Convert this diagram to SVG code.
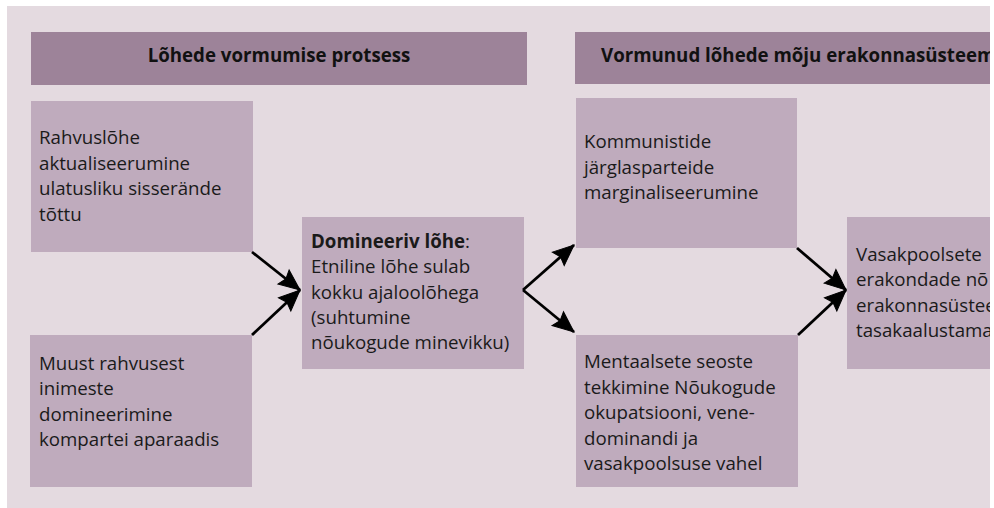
<svg xmlns="http://www.w3.org/2000/svg" width="994" height="508" viewBox="0 0 994 508">
  <style>
    .bg { fill: #E4DAE0; }
    .hdr { fill: #9D8399; }
    .box { fill: #BFABBD; }
    .ht { font-family: "Open Sans", "Noto Sans", sans-serif; font-size: 18.7px; font-weight: 700; fill: #111; }
    .t { font-family: "Open Sans", "Noto Sans", sans-serif; font-size: 18.7px; fill: #1a1a1a; }
    .b { font-weight: 700; }
    .conn { stroke: #000; stroke-width: 2.8; marker-end: url(#arr); }
    .ah { fill: #000; stroke: #000; stroke-width: 1; stroke-linejoin: miter; }
  </style>
  <defs>
    <clipPath id="clip">
      <rect x="0" y="0" width="990" height="508"/>
    </clipPath>
    <marker id="arr" markerUnits="userSpaceOnUse" markerWidth="26" markerHeight="24" refX="22" refY="11" orient="auto" overflow="visible">
      <path class="ah" d="M1,2 L22,11 L1,20 L4,11 z"/>
    </marker>
  </defs>
  <rect class="bg" x="7" y="6" width="983" height="502"/>
  <g clip-path="url(#clip)">
    <g id="header-left">
      <rect class="hdr" x="31" y="32" width="496" height="53"/>
      <text class="ht" x="279" y="62" text-anchor="middle">Lõhede vormumise protsess</text>
    </g>
    <g id="header-right">
      <rect class="hdr" x="575" y="32" width="430" height="52"/>
      <text class="ht" x="601" y="62">Vormunud lõhede mõju erakonnasüsteem</text>
    </g>
    <g id="node-rahvuslohe">
      <rect class="box" x="31" y="101" width="222" height="151"/>
      <text class="t" x="39" y="144">Rahvuslõhe</text>
      <text class="t" x="39" y="169.5">aktualiseerumine</text>
      <text class="t" x="39" y="195">ulatusliku sisserände</text>
      <text class="t" x="39" y="220.5">tõttu</text>
    </g>
    <g id="node-muust">
      <rect class="box" x="30" y="335" width="222" height="152"/>
      <text class="t" x="39" y="369.5">Muust rahvusest</text>
      <text class="t" x="39" y="395">inimeste</text>
      <text class="t" x="39" y="420.5">domineerimine</text>
      <text class="t" x="39" y="446">kompartei aparaadis</text>
    </g>
    <g id="node-domineeriv">
      <rect class="box" x="302" y="217" width="222" height="152"/>
      <text class="t" x="311" y="248"><tspan class="b">Domineeriv lõhe</tspan>:</text>
      <text class="t" x="311" y="273.3">Etniline lõhe sulab</text>
      <text class="t" x="311" y="298.6">kokku ajaloolõhega</text>
      <text class="t" x="311" y="323.9">(suhtumine</text>
      <text class="t" x="311" y="349.2">nõukogude minevikku)</text>
    </g>
    <g id="node-kommunistid">
      <rect class="box" x="576" y="98" width="221" height="150"/>
      <text class="t" x="584" y="148">Kommunistide</text>
      <text class="t" x="584" y="173.5">järglasparteide</text>
      <text class="t" x="584" y="199">marginaliseerumine</text>
    </g>
    <g id="node-mentaalsed">
      <rect class="box" x="576" y="335" width="222" height="152"/>
      <text class="t" x="584" y="368">Mentaalsete seoste</text>
      <text class="t" x="584" y="393.5">tekkimine Nõukogude</text>
      <text class="t" x="584" y="419">okupatsiooni, vene-</text>
      <text class="t" x="584" y="444.5">dominandi ja</text>
      <text class="t" x="584" y="470">vasakpoolsuse vahel</text>
    </g>
    <g id="node-vasakpoolsed">
      <rect class="box" x="847" y="217" width="160" height="152"/>
      <text class="t" x="856" y="261">Vasakpoolsete</text>
      <text class="t" x="856" y="286.3">erakondade nõ</text>
      <text class="t" x="856" y="311.6">erakonnasüstee</text>
      <text class="t" x="856" y="337">tasakaalustama</text>
    </g>
  </g>
  <g id="connectors">
    <line class="conn" x1="252" y1="252" x2="300" y2="290"/>
    <line class="conn" x1="252" y1="335" x2="300" y2="290"/>
    <line class="conn" x1="523" y1="290" x2="574" y2="245"/>
    <line class="conn" x1="523" y1="290" x2="574" y2="332"/>
    <line class="conn" x1="797" y1="248" x2="846" y2="290"/>
    <line class="conn" x1="798" y1="335" x2="846" y2="290"/>
  </g>
</svg>
